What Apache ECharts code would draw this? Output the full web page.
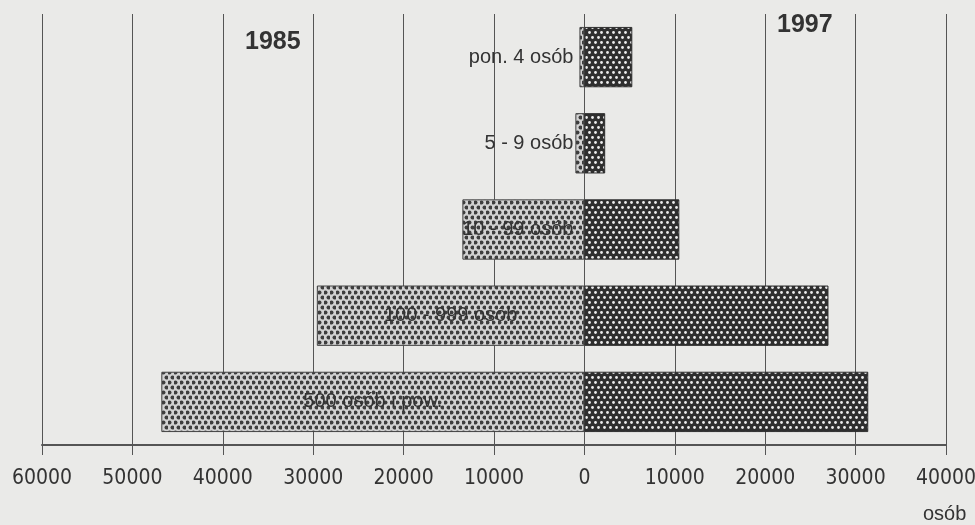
<!DOCTYPE html>
<html lang="pl">
<head>
    <meta charset="UTF-8">
    <title>1985 / 1997</title>
    <style>
        html, body { margin: 0; padding: 0; background: #eaeae8; }
        #chart { width: 975px; height: 525px; }
    </style>
</head>
<body>
<div id="chart"></div>
<script src="https://cdn.jsdelivr.net/npm/echarts@6/dist/echarts.min.js"></script>
<script>
    // dane
    var categories = ['pon. 4 osób', '5 - 9 osób', '10 - 99 osób', '100 - 999 osób', '500 osób i pow.'];
    var values1985 = [550, 1000, 13500, 29600, 46800];
    var values1997 = [5300, 2300, 10500, 27000, 31400];
    var tickValues = [-60000, -50000, -40000, -30000, -20000, -10000, 0, 10000, 20000, 30000, 40000];

    var narrow = "'Liberation Sans Narrow', 'DejaVu Sans Condensed', 'Liberation Sans', Arial, sans-serif";
    var sans = "'Liberation Sans', Arial, sans-serif";

    // raster kropek jak w druku
    function dots(bg, fg, r) {
        var c = document.createElement('canvas');
        c.width = 6; c.height = 10;
        var g = c.getContext('2d');
        g.fillStyle = bg;
        g.fillRect(0, 0, 6, 10);
        g.fillStyle = fg;
        [[1.5, 2.5], [4.5, 7.5]].forEach(function (p) {
            g.beginPath();
            g.arc(p[0], p[1], r, 0, Math.PI * 2);
            g.fill();
        });
        return { image: c, repeat: 'repeat' };
    }

    var data1985 = values1985.map(function (v, i) {
        return {
            value: -v,
            label: i >= 3 ? { position: 'inside' } : { position: 'insideRight', distance: 11 }
        };
    });

    var myChart = echarts.init(document.getElementById('chart'));
    myChart.setOption({
        backgroundColor: '#eaeae8',
        animation: false,
        title: [
            { text: '1985', left: 240, top: 25, textStyle: { fontFamily: sans, fontSize: 25, fontWeight: 'bold', color: '#333' } },
            { text: '1997', left: 772, top: 8, textStyle: { fontFamily: sans, fontSize: 25, fontWeight: 'bold', color: '#333' } },
            { text: 'osób', left: 918, top: 499, textStyle: { fontFamily: sans, fontSize: 20, fontWeight: 'normal', color: '#333' } }
        ],
        grid: { left: 42, right: 29, top: 14, bottom: 80, containLabel: false, outerBoundsMode: 'none' },
        xAxis: {
            type: 'value',
            min: tickValues[0],
            max: tickValues[tickValues.length - 1],
            interval: 10000,
            axisLine: { show: true, onZero: false, lineStyle: { color: '#555', width: 2 } },
            axisTick: { show: true, length: 10, lineStyle: { color: '#555', width: 1 } },
            axisLabel: {
                margin: 23,
                fontFamily: narrow,
                fontSize: 21,
                color: '#333',
                formatter: function (v) { return String(Math.abs(v)); }
            },
            splitLine: { show: true, lineStyle: { color: '#555', width: 1 } }
        },
        yAxis: {
            type: 'category',
            data: categories,
            inverse: true,
            axisLine: { show: false },
            axisTick: { show: false },
            axisLabel: { show: false },
            splitLine: { show: false }
        },
        series: [
            {
                name: '1985',
                type: 'bar',
                stack: 'a',
                barCategoryGap: '30%',
                data: data1985,
                itemStyle: { color: dots('#d2d2d2', '#3e3e3e', 2), borderColor: '#444', borderWidth: 1 },
                label: {
                    show: true,
                    fontFamily: sans,
                    fontSize: 20,
                    color: '#333',
                    formatter: function (p) { return p.name; }
                }
            },
            {
                name: '1997',
                type: 'bar',
                stack: 'a',
                barCategoryGap: '30%',
                data: values1997,
                itemStyle: { color: dots('#2e2e2e', '#ececec', 1.4), borderColor: '#2e2e2e', borderWidth: 1 }
            }
        ]
    });
</script>
</body>
</html>
